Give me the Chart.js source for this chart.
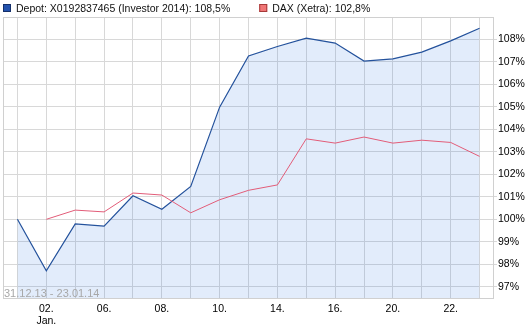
<!DOCTYPE html>
<html>
<head>
<meta charset="utf-8">
<script src="https://cdn.jsdelivr.net/npm/chart.js@4/dist/chart.umd.min.js"></script>
<style>
  html, body { margin: 0; padding: 0; background: #ffffff; }
  #wrap { width: 529px; height: 326px; position: relative; }
</style>
</head>
<body>
<div id="wrap"><canvas id="c" width="529" height="326"></canvas></div>
<script>
// ---- data ----
const categories = ["31.12.", "02.", "03.", "06.", "07.", "08.", "09.", "10.", "13.", "14.", "15.", "16.", "17.", "20.", "21.", "22.", "23."];
const xTickLabels = ["", ["02.", "Jan."], "", "06.", "", "08.", "", "10.", "", "14.", "", "16.", "", "20.", "", "22.", ""];
const depotLabel = "Depot: X0192837465 (Investor 2014): 108,5%";
const depotValues = [100.0, 97.71, 99.80, 99.70, 101.05, 100.45, 101.46, 104.99, 107.27, 107.69, 108.06, 107.84, 107.04, 107.14, 107.44, 107.94, 108.5];
const daxLabel = "DAX (Xetra): 102,8%";
const daxValues = [null, 100.0, 100.41, 100.33, 101.17, 101.08, 100.29, 100.87, 101.29, 101.53, 103.58, 103.39, 103.66, 103.39, 103.52, 103.42, 102.8];
const yTickValues = [97, 98, 99, 100, 101, 102, 103, 104, 105, 106, 107, 108];
const periodText = "31.12.13 - 23.01.14";

const FONT = "'Liberation Sans', Arial, sans-serif";

const framePlugin = {
  id: 'frame',
  beforeDatasetsDraw(chart) {
    const {ctx, chartArea: a} = chart;
    ctx.save();
    ctx.strokeStyle = '#d0d0d0';
    ctx.lineWidth = 1;
    ctx.strokeRect(a.left + 0.5, a.top + 0.5, a.right - a.left - 1, a.bottom - a.top);
    ctx.restore();
  },
  afterDatasetsDraw(chart) {
    const {ctx, chartArea: a} = chart;
    ctx.save();
    ctx.font = "11px " + FONT;
    ctx.fillStyle = '#a8a8a8';
    ctx.textBaseline = 'alphabetic';
    ctx.textAlign = 'left';
    ctx.fillText(periodText, a.left + 1, a.bottom - 1.5);
    ctx.restore();
  },
  afterDraw(chart) {
    const ctx = chart.ctx;
    ctx.save();
    ctx.font = "10.5px " + FONT;
    ctx.textBaseline = 'alphabetic';
    ctx.textAlign = 'left';
    const items = [
      {text: depotLabel, fill: '#2352ad', stroke: '#15306a'},
      {text: daxLabel, fill: '#f07676', stroke: '#a63a3a'}
    ];
    let x = 3;
    items.forEach((it) => {
      ctx.fillStyle = it.fill;
      ctx.fillRect(x, 4, 8, 8);
      ctx.strokeStyle = it.stroke;
      ctx.lineWidth = 1;
      ctx.strokeRect(x + 0.5, 4.5, 7, 7);
      ctx.fillStyle = '#111111';
      ctx.fillText(it.text, x + 13, 12);
      x = x + 13 + ctx.measureText(it.text).width + 29;
    });
    ctx.restore();
  }
};

new Chart(document.getElementById('c'), {
  type: 'line',
  data: {
    labels: categories,
    datasets: [
      {
        label: depotLabel,
        data: depotValues,
        borderColor: '#24529c',
        borderWidth: 1.2,
        backgroundColor: 'rgba(60,125,230,0.15)',
        fill: 'start',
        pointRadius: 0,
        tension: 0,
        order: 1
      },
      {
        label: daxLabel,
        data: daxValues,
        borderColor: '#e25c78',
        borderWidth: 1,
        fill: false,
        pointRadius: 0,
        tension: 0,
        order: 0
      }
    ]
  },
  options: {
    responsive: false,
    animation: false,
    devicePixelRatio: 1,
    layout: { padding: { left: 3, top: 17, right: 0, bottom: 0 } },
    plugins: {
      legend: { display: false },
      tooltip: { enabled: false }
    },
    scales: {
      x: {
        type: 'category',
        offset: true,
        grid: { color: '#d8d8d8', drawTicks: false, offset: false },
        border: { display: false },
        ticks: {
          autoSkip: false,
          maxRotation: 0,
          minRotation: 0,
          padding: 5,
          color: '#000000',
          font: { family: FONT, size: 10.5, lineHeight: 1.15 },
          callback: (v, i) => xTickLabels[i]
        },
        afterFit(scale) { scale.height = 28; }
      },
      y: {
        position: 'right',
        min: 96.5,
        max: 109,
        grid: { color: '#d8d8d8', drawTicks: true, tickLength: 3 },
        border: { display: false },
        afterBuildTicks(scale) { scale.ticks = yTickValues.map(v => ({value: v})); },
        ticks: {
          padding: 1,
          color: '#000000',
          font: { family: FONT, size: 10.5 },
          callback: (v) => v + '%'
        },
        afterFit(scale) { scale.width = 35; }
      }
    }
  },
  plugins: [framePlugin]
});
</script>
</body>
</html>
